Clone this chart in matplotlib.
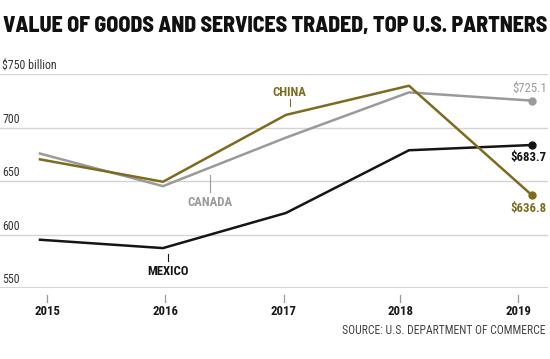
import matplotlib
matplotlib.use('Agg')
import matplotlib.pyplot as plt
import matplotlib.transforms as mtransforms

years = [2015, 2016, 2017, 2018, 2019]
canada = [675.7, 645.3, 690.6, 732.8, 725.1]
china = [670.3, 649.4, 711.8, 739.0, 636.8]
mexico = [595.3, 587.5, 620.3, 678.8, 683.7]
y_ticks = [550, 600, 650, 700, 750]
y_tick_labels = ['550', '600', '650', '700', '$750 billion']
# year ticks sit a little left of the data points in the original
x_tick_pos = [2015.06, 2016.02, 2016.98, 2017.93, 2018.89]
x_tick_labels = ['2015', '2016', '2017', '2018', '2019']

OLIVE = '#7d6b1f'
GRAY = '#9a9a9a'
BLACK = '#151515'
COND = ['Roboto Condensed', 'DejaVu Sans']
HEAVY = ['Barlow Semi Condensed', 'Roboto Condensed', 'DejaVu Sans']

fig = plt.figure(figsize=(5.5, 3.59), dpi=100)
ax = fig.add_axes([0, 0.197, 548 / 550, 0.597])
ax.set_xlim(2014.675, 2019.13)
ax.set_ylim(550, 750)

for v in y_ticks[1:]:
    ax.axhline(v, color='#d4d4d4', lw=1.0, zorder=1)
ax.axhline(550, color='#c8c8c8', lw=1.8, zorder=1)

ax.plot(years, canada, color=GRAY, lw=1.8, zorder=3)
ax.plot(years, china, color=OLIVE, lw=1.8, zorder=4)
ax.plot(years, mexico, color=BLACK, lw=1.8, zorder=3)
ax.plot(years[-1], canada[-1], 'o', color=GRAY, ms=5, zorder=5)
ax.plot(years[-1], china[-1], 'o', color=OLIVE, ms=5, zorder=5)
ax.plot(years[-1], mexico[-1], 'o', color=BLACK, ms=5, zorder=5)

for s in ax.spines.values():
    s.set_visible(False)
ax.set_xticks([])
ax.set_yticks([])

blend_y = mtransforms.blended_transform_factory(ax.transAxes, ax.transData)
for v, lab in zip(y_ticks, y_tick_labels):
    ax.annotate(lab, xy=(0, v), xycoords=blend_y, xytext=(2, 5),
                textcoords='offset pixels', ha='left', va='baseline',
                fontsize=8.6, color='#333333', family=COND)

blend_x = mtransforms.blended_transform_factory(ax.transData, ax.transAxes)
for p, lab in zip(x_tick_pos, x_tick_labels):
    ax.plot([p, p], [-0.03, -0.065], transform=blend_x, color='#999999',
            lw=0.9, clip_on=False)
    ax.annotate(lab, xy=(p, 0), xycoords=blend_x, xytext=(0, -27),
                textcoords='offset pixels', ha='center', va='baseline',
                fontsize=9.2, fontweight='bold', color='#1a1a1a', family=COND)

# series labels with leader lines
def series_label(x, y, text, color, line_y0, line_y1):
    ax.plot([x, x], [line_y0, line_y1], color=color, lw=0.8, zorder=2)
    ax.text(x, y, text, ha='center', va='center', fontsize=9.2,
            fontweight='bold', color=color, family=COND)

series_label(2017.03, 733, 'CHINA', OLIVE, 720, 727)
series_label(2016.38, 630, 'CANADA', GRAY, 639.5, 656)
series_label(2016.04, 565.5, 'MEXICO', BLACK, 575.5, 582)

# end values
ax.text(2019.12, 736.3, '$725.1', ha='right', va='center', fontsize=9.2,
        color=GRAY, family=COND)
ax.text(2019.12, 672.5, '$683.7', ha='right', va='center', fontsize=9.2,
        fontweight='bold', color=BLACK, family=COND)
ax.text(2019.12, 624, '$636.8', ha='right', va='center', fontsize=9.2,
        fontweight='bold', color=OLIVE, family=COND)

title = fig.text(3 / 550, 1 - 26 / 359,
                 'VALUE OF GOODS AND SERVICES TRADED, TOP U.S. PARTNERS',
                 ha='left', va='center', fontsize=15, fontweight='heavy',
                 color='#111111', family=HEAVY)
# scale the title so it spans the width of the chart
renderer = fig.canvas.get_renderer()
w = title.get_window_extent(renderer).width
title.set_fontsize(15 * 544 / w)

fig.text(546 / 550, 1 - 331 / 359, 'SOURCE: U.S. DEPARTMENT OF COMMERCE',
         ha='right', va='center', fontsize=8.4, color='#444444', family=COND)

fig.savefig('out.png', dpi=100)
